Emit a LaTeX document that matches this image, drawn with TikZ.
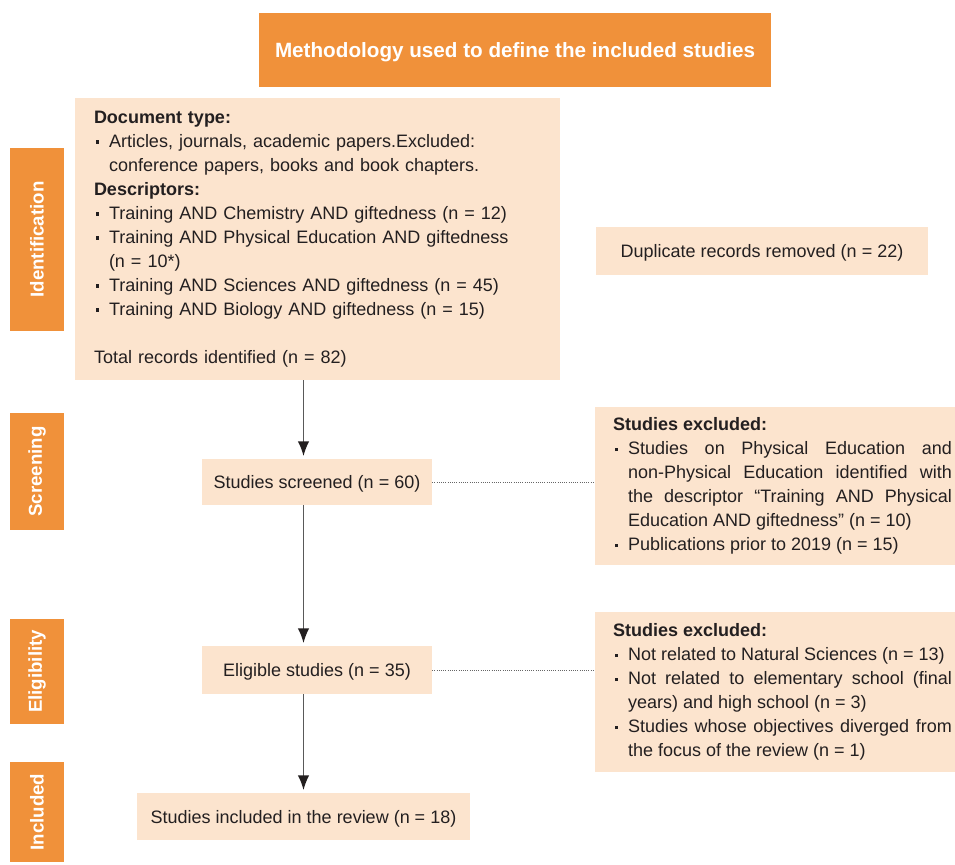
\documentclass[tikz,border=0pt]{standalone}
\usepackage{fontspec}
\setmainfont{Liberation Sans}
\usetikzlibrary{arrows.meta}
\definecolor{orng}{HTML}{F0913A}
\definecolor{peach}{HTML}{FCE4CE}
\definecolor{ink}{HTML}{231F20}
\setlength{\parindent}{0pt}
% bullet item with hanging indent
\newcommand{\itm}[1]{\par\hangindent=11.25pt\hangafter=1\noindent\makebox[11.25pt][l]{\hspace{1.5pt}\rule[2.6pt]{2.6pt}{2.6pt}}#1}
\tikzset{
  box/.style={fill=peach, text=ink, inner sep=0pt, font=\fontsize{13.5}{18}\selectfont},
  line/.style={box, text depth=0pt},
  stage/.style={fill=orng, text=white, inner sep=0pt, minimum width=40.5pt, font=\fontsize{14}{16}\selectfont\bfseries},
  arr/.style={draw=black!65, line width=1pt, -{Latex[length=11pt,width=8.5pt,color=ink]}},
  link/.style={draw=black!60, line width=0.75pt, dash pattern=on 0.75pt off 0.9pt}
}
\begin{document}
\begin{tikzpicture}[x=0.75pt, y=-0.75pt]
	\useasboundingbox (0,0) rectangle (955,864);
	% title
	\node[fill=orng, text=white, inner sep=0pt, minimum width=384pt, minimum height=55.5pt, text depth=0pt,
	  font=\fontsize{15.5}{18}\selectfont\bfseries] (ttl) at (515,50) {Methodology used to define the included studies};
	% stages on the left
	\node[stage, minimum height=137.25pt] (sid) at (37,239.5) {\rotatebox{90}{Identification}};
	\node[stage, minimum height=87.75pt] (sscr) at (37,471.5) {\rotatebox{90}{Screening}};
	\node[stage, minimum height=78.75pt] (selg) at (37,671.5) {\rotatebox{90}{Eligibility}};
	\node[stage, minimum height=75pt] (sinc) at (37,812) {\rotatebox{90}{Included}};
	% main column
	\node[box, text width=335.25pt, inner xsep=14.25pt, minimum height=211.5pt, align=left] (idn) at (317.5,239) {%
	  \textbf{Document type:}
	  \itm{Articles, journals, academic papers.Excluded:\newline conference papers, books and book chapters.}
	  \par\textbf{Descriptors:}
	  \itm{Training AND Chemistry AND giftedness (n~=~12)}
	  \itm{Training AND Physical Education AND giftedness\newline (n~=~10*)}
	  \itm{Training AND Sciences AND giftedness (n~=~45)}
	  \itm{Training AND Biology AND giftedness (n~=~15)}
	  \par\vspace{18pt}Total records identified (n~=~82)};
	\node[line, minimum width=249pt, minimum height=36pt] (dup) at (762,251) {Duplicate records removed (n~=~22)};
	\node[line, minimum width=172.5pt, minimum height=34.5pt] (scr) at (317,482) {Studies screened (n~=~60)};
	\node[line, minimum width=172.5pt, minimum height=36pt] (elg) at (317,670) {Eligible studies (n~=~35)};
	\node[line, minimum width=249.75pt, minimum height=35.25pt] (inc) at (303.5,816.5) {Studies included in the review (n~=~18)};
	% excluded studies
	\node[box, minimum width=270pt, minimum height=118.5pt] (exa) at (775,486) {\hspace*{13.5pt}\parbox{254.25pt}{%
	  \textbf{Studies excluded:}
	  \itm{Studies on Physical Education and\linebreak non-Physical Education identified with\linebreak the descriptor “Training AND Physical\linebreak Education AND giftedness” (n~=~10)}
	  \itm{Publications prior to 2019 (n~=~15)}}\hspace*{2.25pt}};
	\node[box, minimum width=270pt, minimum height=120pt] (exb) at (775,692) {\hspace*{13.5pt}\parbox{254.25pt}{%
	  \textbf{Studies excluded:}
	  \itm{Not related to Natural Sciences (n~=~13)}
	  \itm{Not related to elementary school (final\linebreak years) and high school (n~=~3)}
	  \itm{Studies whose objectives diverged from\linebreak the focus of the review (n~=~1)}}\hspace*{2.25pt}};
	% connectors
	\draw[arr] (idn.south -| inc.north) -- ([yshift=2pt]scr.north -| inc.north);
	\draw[arr] (scr.south -| inc.north) -- ([yshift=2pt]elg.north -| inc.north);
	\draw[arr] (elg.south -| inc.north) -- ([yshift=2pt]inc.north);
	\draw[link] (scr.east) -- (scr.east -| exa.west);
	\draw[link] (elg.east) -- (elg.east -| exb.west);
\end{tikzpicture}
\end{document}
